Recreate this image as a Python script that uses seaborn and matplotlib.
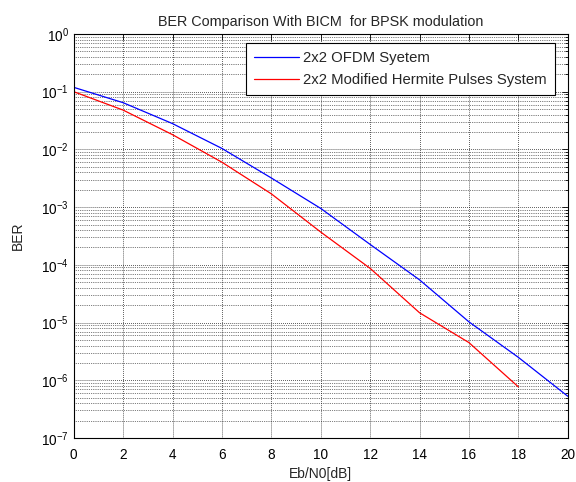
import numpy as np
import pandas as pd
import matplotlib
matplotlib.use("Agg")
import matplotlib.pyplot as plt
import seaborn as sns
from matplotlib.ticker import LogLocator, NullFormatter

# =========================
# DATA
# =========================

snr_ofdm = [0, 2, 4, 6, 8, 10, 12, 14, 16, 18, 20]
ber_ofdm = [0.119, 0.0645, 0.028, 0.0104, 0.0032, 0.00095,
            0.000226, 5.5e-5, 1.03e-5, 2.5e-6, 5.3e-7]

snr_hermite = [0, 2, 4, 6, 8, 10, 12, 14, 16, 18]
ber_hermite = [0.1, 0.048, 0.018, 0.006, 0.0017, 0.00037,
               8.7e-5, 1.48e-5, 4.5e-6, 7.7e-7]

label_ofdm = "2x2 OFDM Syetem"
label_hermite = "2x2 Modified Hermite Pulses System"

df = pd.concat([
    pd.DataFrame({"snr": snr_ofdm, "ber": ber_ofdm, "system": label_ofdm}),
    pd.DataFrame({"snr": snr_hermite, "ber": ber_hermite, "system": label_hermite}),
])

# =========================
# STYLE
# =========================

sns.set_style("white")
plt.rcParams["font.family"] = ["Liberation Sans", "DejaVu Sans"]
plt.rcParams["mathtext.default"] = "regular"

fig = plt.figure(figsize=(5.76, 4.82), dpi=100)
ax = fig.add_axes([0.128, 0.0913, 0.8576, 0.8382])

sns.lineplot(
    data=df,
    x="snr",
    y="ber",
    hue="system",
    palette={label_ofdm: "#0000ff", label_hermite: "#ff0000"},
    linewidth=0.9,
    ax=ax
)

ax.set_yscale("log")
ax.set_xlim(0, 20)
ax.set_ylim(1e-7, 1)
ax.set_xticks(range(0, 21, 2))
ax.yaxis.set_major_locator(LogLocator(base=10, numticks=10))
ax.yaxis.set_minor_locator(LogLocator(base=10, subs=np.arange(2, 10), numticks=10))
ax.yaxis.set_minor_formatter(NullFormatter())

ax.grid(True, which="major", color="k", linestyle=":", linewidth=0.55)
ax.grid(True, which="minor", axis="y", color="k", linestyle=":", linewidth=0.5)

ax.tick_params(which="both", direction="in", top=True, right=True,
               labelsize=9.8, width=0.6, colors="k")
ax.tick_params(which="major", length=4)
ax.tick_params(which="minor", length=2)
ax.tick_params(axis="x", pad=7)

for s in ax.spines.values():
    s.set_color("k")
    s.set_linewidth(0.8)

ax.set_xlabel("Eb/N0[dB]", fontsize=10, labelpad=4)
ax.set_ylabel("BER", fontsize=10, labelpad=12)
ax.set_title("BER Comparison With BICM  for BPSK modulation", fontsize=10.4, pad=6)

leg = ax.legend(loc="upper right", fontsize=10.7, frameon=True, fancybox=False,
                handlelength=3.0, handletextpad=0.3, borderpad=0.55,
                labelspacing=0.55, borderaxespad=0,
                bbox_to_anchor=(0.974, 0.978))
leg.get_frame().set_edgecolor("k")
leg.get_frame().set_linewidth(0.8)
leg.get_frame().set_alpha(1)

fig.savefig("out.png", dpi=100)
